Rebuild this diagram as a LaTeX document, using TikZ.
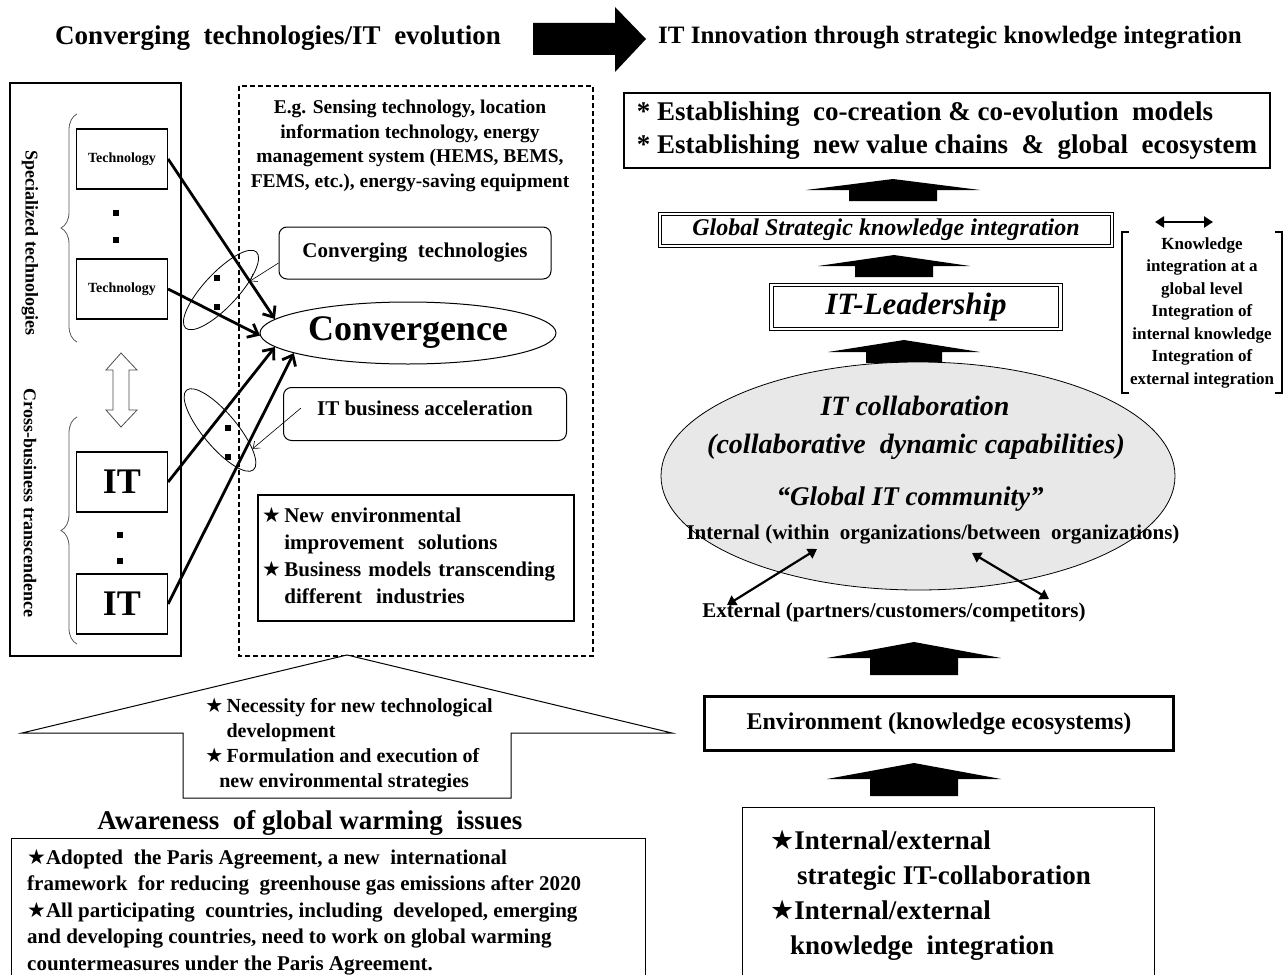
\documentclass[tikz,border=0pt]{standalone}
\usepackage{fontspec}
\setmainfont{Liberation Serif}
\newfontfamily\symfont{DejaVu Sans}
\usetikzlibrary{arrows.meta,shapes.geometric,decorations.pathreplacing}

\newcommand{\fsz}[2]{\fontsize{#1}{#2}\selectfont\bfseries}
\newcommand{\st}{{\symfont\char"2605}}
% black block arrow: x, tip, wing, bottom, half wing, half shaft
\newcommand{\blkup}[6]{\fill (#1,#2) -- (#1+#5,#3) -- (#1+#6,#3) -- (#1+#6,#4) -- (#1-#6,#4) -- (#1-#6,#3) -- (#1-#5,#3) -- cycle;}
\definecolor{ellgray}{gray}{0.91}

\tikzset{
  box/.style={draw, line width=1.2pt, inner sep=0pt},
  rbox/.style={draw, rounded corners=8pt, line width=1pt, inner sep=0pt},
  bigarr/.style={line width=2.8pt, -{Straight Barb[length=9pt,width=15pt]}},
  thinarr/.style={line width=0.6pt, -{Straight Barb[length=6pt,width=9pt]}},
  dblarr/.style={line width=2.2pt, {Triangle[length=9pt,width=11pt]}-{Triangle[length=9pt,width=11pt]}},
  sq/.style={fill, minimum size=6pt, inner sep=0pt},
  grp/.style={draw, ellipse, line width=0.8pt, minimum width=104pt, minimum height=34pt, inner sep=0pt},
  brc/.style={black!65, line width=0.8pt, decorate, decoration={brace, amplitude=16pt}}
}

\begin{document}
\begin{tikzpicture}[x=1pt,y=-1pt]
\path[use as bounding box, fill=white] (0,0) rectangle (1287,974);

% headings
\node[font={\fsz{27}{30}}] (ttlL) at (278,38) {Converging\ \ technologies/IT\ \ evolution};
\fill (533,23) -- (615,23) -- (615,7) -- (646,39) -- (615,72) -- (615,55) -- (533,55) -- cycle;
\node[font={\fsz{25}{28}}] (ttlR) at (950,38) {IT Innovation through strategic knowledge integration};

% left panel
\draw[line width=2pt] (10,83) rectangle (181,656);
\node[rotate=-90, font={\fsz{18}{22}}] (spec) at (30,243) {Specialized technologies};
\node[rotate=-90, font={\fsz{18}{22}}] (cross) at (30,503) {Cross-business transcendence};
\draw[brc] (77,342) -- (77,114);
\draw[brc] (77,644) -- (77,417);
\node[box, minimum width=91, minimum height=60, font={\fsz{14}{16}}] (tech1) at (122,159) {Technology};
\node[sq] (d1) at (116,213) {};
\node[sq] (d2) at (116,240) {};
\node[box, minimum width=91, minimum height=60, font={\fsz{14}{16}}] (tech2) at (122,289) {Technology};
\draw[black!70, line width=0.8pt] (121,353) -- (137,370) -- (129,370) -- (129,410) -- (137,410) -- (121,427)
  -- (106,410) -- (113,410) -- (113,370) -- (106,370) -- cycle;
\node[box, minimum width=91, minimum height=60, font={\fsz{36}{40}}] (it1) at (122,482) {IT};
\node[sq] (d3) at (120,535) {};
\node[sq] (d4) at (120,561) {};
\node[box, minimum width=91, minimum height=60, font={\fsz{36}{40}}] (it2) at (122,604) {IT};

% dashed panel
\draw[line width=1.6pt, dash pattern=on 5pt off 3pt] (239,86) rectangle (593,656);
\node[align=center, font={\fsz{19.5}{24.5}}] (eg) at (410,146) {E.g. Sensing technology, location\\information technology, energy\\management system (HEMS, BEMS,\\FEMS, etc.), energy-saving equipment};
\node[rbox, minimum width=272, minimum height=52, font={\fsz{21}{24}}] (ctech) at (415,253) {Converging\ \ technologies};
\node[draw, ellipse, line width=1pt, minimum width=296, minimum height=62, inner sep=0pt, font={\fsz{36}{40}}] (conv) at (408,333) {Convergence};
\node[rbox, minimum width=283, minimum height=53, text depth=12pt, font={\fsz{21}{24}}] (itb) at (425,414) {IT business acceleration};
\node[box, minimum height=126, text width=308, inner xsep=4pt, font={\fsz{21}{27}}] (sol) at (416,558) {\begin{tabular}{@{}c@{\,}l@{}}\st & New environmental\\ & improvement\ \ solutions\\ \st & Business models transcending\\ & different\ \ industries\end{tabular}};

% groups
\node[grp, rotate=47] (g1) at (221,290) {};
\node[sq] (d5) at (217,278) {};
\node[sq] (d6) at (217,307) {};
\node[grp, rotate=-50] (g2) at (220,430) {};
\node[sq] (d7) at (228,428) {};
\node[sq] (d8) at (228,457) {};

\draw[bigarr] (tech1.east) -- (conv.174);
\draw[bigarr] (tech2.east) -- (conv.181);
\draw[bigarr] (it1.east) -- (conv.186);
\draw[bigarr] (it2.east) -- (conv.190);
\draw[thinarr] ([yshift=-10pt]ctech.west) -- (g1.330);
\draw[thinarr] ([xshift=18pt,yshift=6pt]itb.west) -- (g2.20);

% bottom left
\draw[line width=1pt, fill=white] (347,655) -- (672,733) -- (511,733) -- (511,798) -- (183,798) -- (183,733) -- (22,733) -- cycle;
\node[font={\fsz{20}{25}}] (need) at (349,745) {\begin{tabular}{@{}c@{\,}l@{}}\st & Necessity for new technological\\ & development\\ \st & Formulation and execution of\\ \multicolumn{2}{@{}l@{}}{\hspace*{14pt}new environmental strategies}\end{tabular}};
\node[font={\fsz{27}{30}}] (aware) at (310,823) {Awareness\ \ of global warming\ \ issues};
\draw[line width=1pt] (11,838) rectangle (645,995);
\node[anchor=north west, align=left, inner sep=0pt, font={\fsz{21}{26.5}}] (paris) at (27,849) {\st Adopted\ \ the Paris Agreement, a new\ \ international\\framework\ \ for reducing\ \ greenhouse gas emissions after 2020\\\st All participating\ \ countries, including\ \ developed, emerging\\and developing countries, need to work on global warming\\countermeasures under the Paris Agreement.};

% right side
\node[box, minimum width=646, minimum height=75, align=left, font={\fsz{27}{33}}] (goal) at (947,130.5) {* Establishing\ \ co-creation \& co-evolution\ \ models\\* Establishing\ \ new value chains\ \ \&\ \ global\ \ ecosystem};
\blkup{893}{179}{190}{201}{87}{44}
\node[box, double, double distance=2.5pt, line width=0.8pt, minimum width=452, minimum height=32, font={\fsz{24}{26}\itshape}] (gski) at (886,230) {Global Strategic knowledge integration};
\blkup{894}{255}{266}{277}{76}{39}
\node[box, double, double distance=2.5pt, line width=0.8pt, minimum width=289, minimum height=44, font={\fsz{31}{34}\itshape}] (itl) at (916,307) {IT-Leadership};
\blkup{904}{340}{352}{363}{76}{38}

\node[draw, ellipse, fill=ellgray, line width=0.8pt, minimum width=514, minimum height=228, inner sep=0pt] (collab) at (918,476) {};
\node[font={\fsz{28}{32}\itshape}] (itc) at (915,406) {IT collaboration};
\node[font={\fsz{28}{32}\itshape}] (cdc) at (916,447) {(collaborative\ \ dynamic capabilities)};
\node[font={\fsz{27}{30}\itshape}] (gitc) at (910,499) {“Global IT community”};
\node[font={\fsz{21}{24}}] (intl) at (933,535) {Internal (within\ \ organizations/between\ \ organizations)};
\node[font={\fsz{21}{24}}] (extl) at (894,612) {External (partners/customers/competitors)};
\coordinate (a1) at (727,605);
\coordinate (a2) at (817,549);
\coordinate (a3) at (972,553);
\coordinate (a4) at (1049,599);
\draw[dblarr] (a1) -- (a2);
\draw[dblarr] (a3) -- (a4);

\node[minimum width=160, minimum height=161, inner sep=0pt, align=center, font={\fsz{17}{22.5}}] (kbox) at (1202,312.5) {Knowledge\\integration at a\\global level\\Integration of\\internal knowledge\\Integration of\\external integration};
\draw[line width=1.8pt] ([xshift=7pt]kbox.north west) -- (kbox.north west) -- (kbox.south west) -- ([xshift=7pt]kbox.south west);
\draw[line width=1.8pt] ([xshift=-7pt]kbox.north east) -- (kbox.north east) -- (kbox.south east) -- ([xshift=-7pt]kbox.south east);
\coordinate (k1) at (1155,222);
\coordinate (k2) at (1213,222);
\draw[dblarr] (k1) -- (k2);

\blkup{914}{642}{658}{675}{87}{44}
\node[draw, line width=3pt, minimum width=469, minimum height=54, inner sep=0pt, font={\fsz{24}{28}}] (env) at (939,723.5) {Environment (knowledge ecosystems)};
\blkup{914}{763}{779}{796}{87}{44}
\draw[line width=1pt] (742,807) rectangle (1154,995);
\node[anchor=north west, align=left, inner sep=0pt, font={\fsz{27}{35}}] (strat) at (770,830) {\st Internal/external\\\hspace*{27pt}strategic IT-collaboration\\\st Internal/external\\\hspace*{20pt}knowledge\ \ integration};
\end{tikzpicture}
\end{document}
